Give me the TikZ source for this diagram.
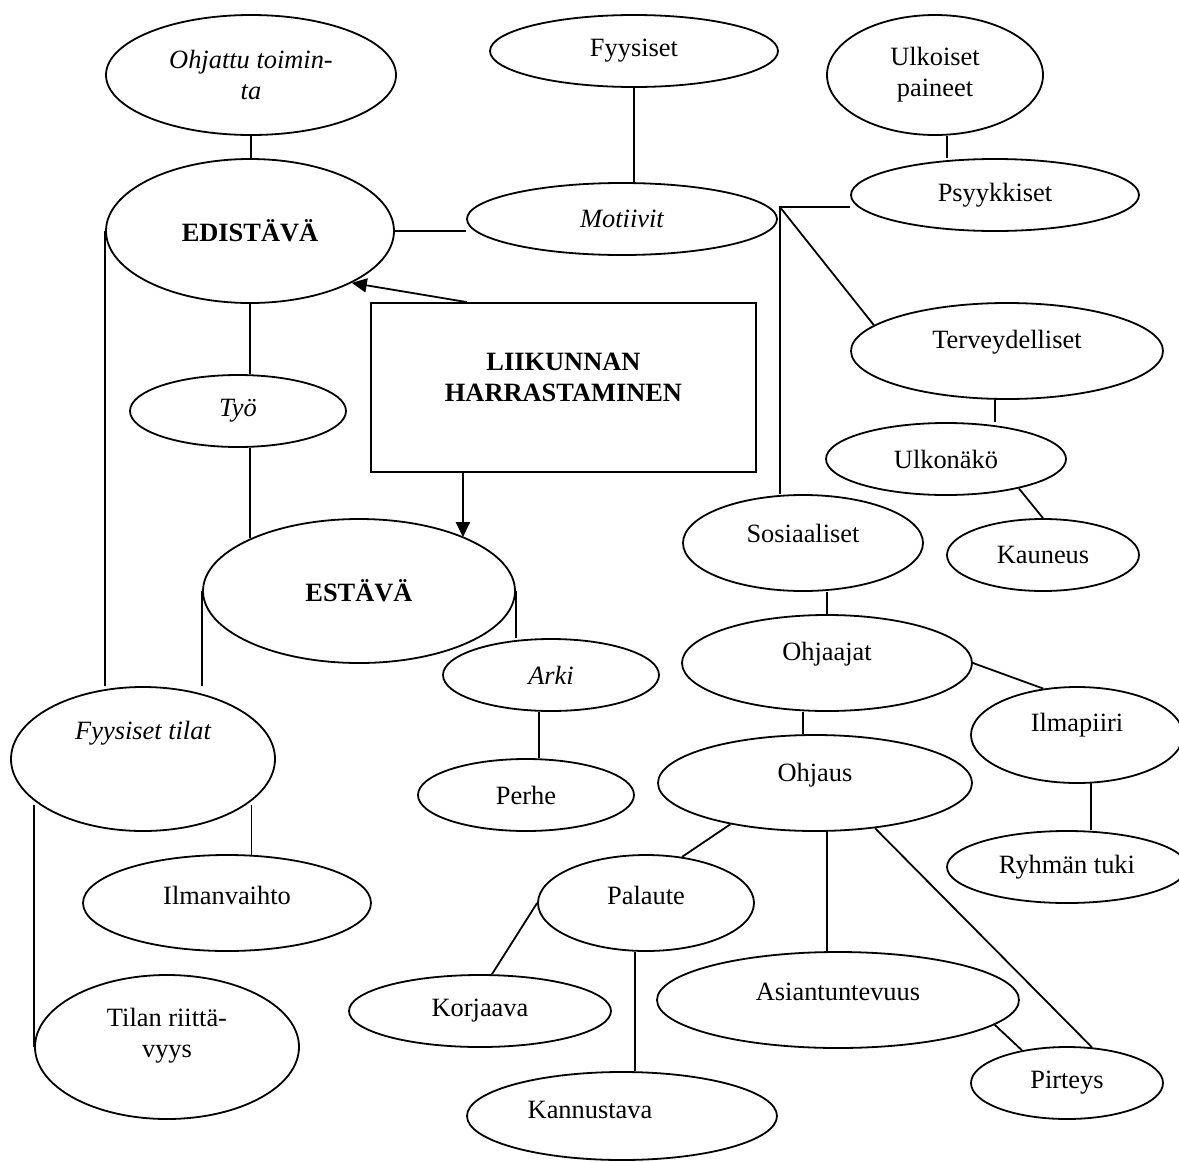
\documentclass[tikz,border=0pt]{standalone}
\usepackage{fontspec}
\setmainfont{Liberation Serif}
\usetikzlibrary{shapes.geometric,arrows.meta,calc}

\newcommand{\diafont}{\fontsize{13.2}{15.5}\selectfont}

\tikzset{
  oval/.style 2 args={draw, ellipse, inner sep=0pt, minimum width=#1pt, minimum height=#2pt},
  kuori/.style={draw, rectangle, inner sep=0pt, minimum width=192.5pt, minimum height=84.5pt},
  nuoli/.style={-{Triangle[length=7.5pt,width=7pt]}}
}

\begin{document}
\begin{tikzpicture}[x=0.5pt,y=0.5pt,yscale=-1,line width=0.9pt,font=\diafont]
		% Fix the page to the size of the reference (1179 x 1162)
		\useasboundingbox (0,0) rectangle (1179,1162);

		% The central box
		\node[kuori, label={[yshift=5pt,align=center,font=\diafont\bfseries]center:{LIIKUNNAN\\HARRASTAMINEN}}] (liikunta) at (563.5,387.5) {};

		% Left column: promoting and hindering factors
		\node[oval={145}{60}, align=center, font=\diafont\itshape] (ohjattu) at (251,75) {Ohjattu toimin-\\ta};
		\node[oval={144}{72}, font=\diafont\bfseries] (edistava) at (250,231) {EDISTÄVÄ};
		\node[oval={108}{36}, font=\diafont\itshape] (tyo) at (238,411) {Työ};
		\node[oval={156}{72}, font=\diafont\bfseries] (estava) at (359,591) {ESTÄVÄ};
		\node[oval={108}{36}, font=\diafont\itshape] (arki) at (551,675) {Arki};
		\node[oval={108}{36}] (perhe) at (526,795) {Perhe};
		\node[oval={132}{72}, label={[yshift=13pt,font=\diafont\itshape]center:Fyysiset tilat}] (tilat) at (143,759) {};
		\node[oval={144}{48}, label={[yshift=4pt]center:Ilmanvaihto}] (ilmanvaihto) at (227,903) {};
		\node[oval={132}{72}, label={[yshift=5.5pt,align=center]center:{Tilan riittä-\\vyys}}] (tilan) at (167,1047) {};

		% Right side: motives
		\node[oval={144}{36}] (fyysiset) at (634,51) {Fyysiset};
		\node[oval={155}{36}, font=\diafont\itshape] (motiivit) at (622,219) {Motiivit};
		\node[oval={108}{60}, align=center] (ulkoiset) at (935,75) {Ulkoiset\\paineet};
		\node[oval={144}{36}] (psyykkiset) at (995,195) {Psyykkiset};
		\node[oval={156}{48}, label={[yshift=4.5pt]center:Terveydelliset}] (terveys) at (1007,351) {};
		\node[oval={120}{36}] (ulkonako) at (946,459) {Ulkonäkö};
		\node[oval={96}{36}] (kauneus) at (1043,555) {Kauneus};
		\node[oval={120}{48}, label={[yshift=5pt]center:Sosiaaliset}] (sosiaaliset) at (803,543) {};
		\node[oval={145}{48}, label={[yshift=4.5pt]center:Ohjaajat}] (ohjaajat) at (827,663) {};
		\node[oval={106}{48}, label={[yshift=5pt]center:Ilmapiiri}] (ilmapiiri) at (1077,735) {};
		\node[oval={120}{36}] (ryhma) at (1067,867) {Ryhmän tuki};
		\node[oval={157}{48}, label={[yshift=4pt]center:Ohjaus}] (ohjaus) at (815,783) {};
		\node[oval={108}{48}, label={[yshift=4pt]center:Palaute}] (palaute) at (646,903) {};
		\node[oval={131}{36}] (korjaava) at (480,1011) {Korjaava};
		\node[oval={155}{44}, label={[xshift=-16pt,yshift=3pt]center:Kannustava}] (kannustava) at (622,1116) {};
		\node[oval={181}{48}, label={[yshift=4pt]center:Asiantuntevuus}] (asiant) at (838,1000) {};
		\node[oval={96}{36}] (pirteys) at (1067,1083) {Pirteys};

		% Arrows out of the central box
		\coordinate (ylos) at ($(liikunta.north west)!0.25!(liikunta.north east)$);
		\coordinate (alas) at ($(liikunta.south west)!0.24!(liikunta.south east)$);
		\draw[nuoli] (ylos) -- (edistava.-27);
		\draw[nuoli] (alas) -- (alas |- estava.27);

		% Lines of the left column
		\draw (ohjattu.south) -- (ohjattu.south |- edistava.north);
		\draw (edistava.east) -- (edistava.east -| motiivit.west);
		\draw (edistava.south) -- (edistava.south |- tyo.north);
		\draw (edistava.south |- tyo.south) -- (edistava.south |- estava.154);
		\draw (edistava.west) -- (edistava.west |- tilat.north);
		\draw (estava.west) -- (estava.west |- tilat.north);
		\draw (estava.east) -- (estava.east |- arki.north);
		\draw (arki.-108) -- (arki.-108 |- perhe.north);
		\draw (tilan.west) -- (tilan.west |- tilat.204);
		\draw (ilmanvaihto.63) -- (ilmanvaihto.63 |- tilat.-24);

		% Lines of the motives
		\coordinate (haara) at ($(motiivit.east)+(2,-12)$);
		\draw (fyysiset.south) -- (fyysiset.south |- motiivit.north);
		\draw (psyykkiset.west |- haara) -- (haara) -- (haara |- sosiaaliset.north);
		\draw (haara) -- (terveys.169);
		\draw (ulkoiset.-79) -- (ulkoiset.-79 |- psyykkiset.north);
		\draw (terveys.-104) -- (terveys.-104 |- ulkonako.north);
		\draw (ulkonako.-22) -- (kauneus.north);
		\draw (ohjaajat.north) -- (ohjaajat.north |- sosiaaliset.south);
		\draw (ohjaajat.east) -- (ilmapiiri.126);
		\draw (ilmapiiri.-74) -- (ilmapiiri.-74 |- ryhma.north);
		\draw (ohjaus.104) -- (ohjaus.104 |- ohjaajat.south);
		\draw (ohjaus.206) -- (palaute.52);
		\draw (palaute.west) -- (korjaava.72);
		\draw (palaute.-103) -- (palaute.-103 |- kannustava.north);
		\draw (ohjaus.-76) -- (ohjaus.-76 |- asiant.north);
		\draw (ohjaus.-37) -- (pirteys.55);
		\draw (asiant.-9) -- (pirteys.144);
	\end{tikzpicture}
\end{document}
